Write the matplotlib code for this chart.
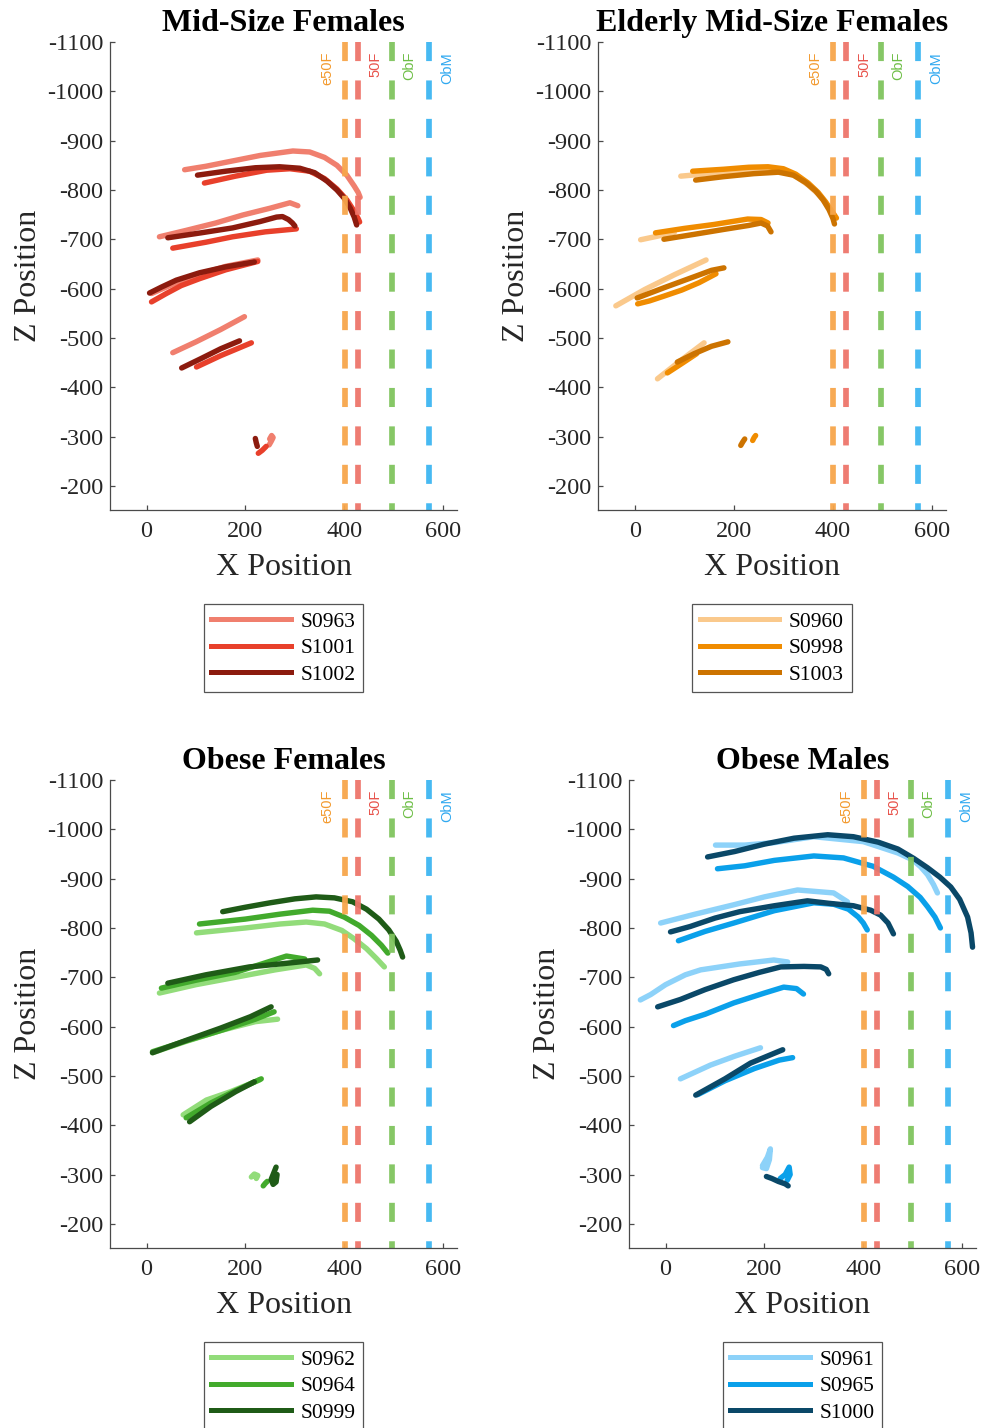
import matplotlib.pyplot as plt
from matplotlib.lines import Line2D

plt.rcParams['font.family'] = ['Liberation Serif', 'DejaVu Serif']
plt.rcParams['axes.unicode_minus'] = False

# reference positions (x) of the four occupant models
ref_names = ["e50F", "50F", "ObF", "ObM"]
ref_x = [401, 427, 496, 572]
ref_line_colors = ["#F7A64B", "#EE756A", "#80C45E", "#3DB6F2"]
ref_text_colors = ["#F39A2E", "#E8524A", "#6DBE45", "#2FA8F0"]

# ---- Mid-Size Females ----
S0963 = [
    ([77, 120, 170, 230, 296, 330, 360, 385, 405, 420, 428, 432],
     [-841, -848, -858, -870, -879, -877, -866, -850, -830, -808, -795, -785]),
    ([26, 80, 140, 194, 250, 290, 306], [-705, -718, -733, -749, -763, -774, -768]),
    ([10, 60, 110, 160, 225], [-590, -612, -630, -645, -658]),
    ([53, 100, 150, 198], [-470, -492, -517, -543]),
    ([248, 252, 256, 253, 249], [-283, -290, -298, -302, -295]),
]
S1001 = [
    ([117, 180, 243, 290, 330, 360, 385, 405, 418, 428, 431],
     [-814, -828, -840, -843, -838, -823, -802, -780, -760, -742, -735]),
    ([53, 120, 174, 240, 303], [-682, -694, -705, -715, -721]),
    ([10, 40, 70, 107, 160, 225], [-573, -590, -606, -620, -638, -655]),
    ([101, 150, 212], [-441, -464, -490]),
    ([226, 234, 242], [-266, -272, -280]),
]
S1002 = [
    ([103, 160, 220, 269, 310, 340, 365, 385, 400, 412, 420, 425],
     [-830, -838, -845, -847, -844, -835, -818, -800, -783, -763, -745, -729]),
    ([43, 110, 174, 230, 263, 275, 287, 295, 300], [-703, -713, -723, -736, -745, -746, -740, -733, -727]),
    ([6, 30, 60, 107, 160, 218], [-591, -603, -617, -632, -644, -654]),
    ([71, 110, 150, 188], [-439, -458, -478, -494]),
    ([220, 222, 224], [-296, -287, -280]),
]

# ---- Elderly Mid-Size Females ----
S0960 = [
    ([93, 150, 200, 269, 300, 325, 350, 370, 385, 397, 402],
     [-828, -833, -838, -842, -838, -828, -810, -792, -774, -756, -740]),
    ([12, 45, 80], [-699, -706, -714]),
    ([-38, 20, 80, 144], [-565, -598, -628, -658]),
    ([46, 90, 140], [-417, -452, -490]),
]
S0998 = [
    ([117, 180, 230, 269, 300, 325, 350, 370, 385, 397, 407],
     [-838, -842, -846, -847, -843, -832, -814, -795, -776, -758, -743]),
    ([42, 100, 160, 228, 255, 269], [-713, -722, -730, -741, -740, -733]),
    ([6, 30, 60, 95, 130, 164], [-569, -575, -585, -597, -612, -630]),
    ([66, 95, 125], [-429, -448, -468]),
    ([238, 241, 244], [-292, -298, -302]),
]
S1003 = [
    ([123, 180, 240, 290, 320, 345, 365, 380, 392, 400, 403],
     [-820, -827, -833, -836, -830, -815, -798, -780, -760, -742, -731]),
    ([59, 120, 180, 230, 255, 268, 275], [-700, -710, -720, -728, -733, -727, -715]),
    ([5, 60, 120, 155, 180], [-581, -602, -624, -637, -642]),
    ([86, 120, 155, 188], [-451, -468, -483, -492]),
    ([214, 218, 222], [-282, -289, -295]),
]

# ---- Obese Females ----
S0962 = [
    ([101, 200, 270, 323, 360, 395, 420, 445, 465, 481],
     [-790, -800, -808, -812, -808, -795, -778, -758, -738, -721]),
    ([26, 100, 180, 260, 323, 340, 350], [-668, -685, -700, -715, -725, -718, -707]),
    ([12, 80, 150, 220, 265], [-547, -570, -592, -610, -615]),
    ([74, 121, 170, 229], [-421, -451, -468, -492]),
    ([212, 218, 225, 222], [-295, -301, -298, -292]),
]
S0964 = [
    ([107, 200, 270, 336, 370, 400, 430, 455, 475, 488],
     [-808, -818, -828, -836, -834, -822, -805, -785, -765, -749]),
    ([30, 100, 180, 283, 320], [-678, -694, -710, -743, -737]),
    ([12, 80, 150, 220, 258], [-549, -571, -592, -615, -630]),
    ([80, 130, 180, 232], [-415, -445, -470, -494]),
    ([236, 240, 244], [-277, -282, -286]),
]
S0999 = [
    ([154, 200, 250, 300, 343, 380, 417, 445, 470, 490, 505, 513, 518],
     [-833, -842, -851, -859, -863, -861, -853, -838, -818, -796, -773, -755, -741]),
    ([43, 120, 208, 280, 346], [-688, -705, -721, -728, -735]),
    ([12, 80, 150, 210, 252], [-547, -572, -597, -620, -640]),
    ([87, 130, 180, 218], [-407, -438, -468, -488]),
    ([262, 258, 252, 256, 262, 264], [-315, -305, -290, -280, -285, -300]),
]

# ---- Obese Males ----
S0961 = [
    ([101, 160, 220, 300, 400, 470, 500, 516, 530, 542, 550],
     [-968, -968, -973, -985, -975, -952, -938, -924, -908, -888, -871]),
    ([-10, 60, 138, 200, 267, 340, 368], [-810, -828, -847, -863, -877, -871, -853]),
    ([-51, -30, 0, 40, 71, 150, 219, 247], [-654, -665, -685, -705, -715, -727, -735, -731]),
    ([30, 91, 140, 192], [-494, -522, -540, -557]),
    ([196, 206, 212, 210, 204, 196], [-318, -335, -352, -330, -312, -314]),
]
S0965 = [
    ([105, 160, 220, 300, 360, 420, 461, 490, 515, 530, 545, 556],
     [-920, -926, -937, -946, -942, -925, -903, -884, -862, -843, -822, -800]),
    ([26, 80, 138, 220, 300, 340, 370, 390, 400, 408],
     [-774, -793, -810, -835, -851, -848, -838, -822, -810, -796]),
    ([16, 40, 80, 138, 200, 239, 265, 279], [-602, -612, -625, -648, -668, -680, -677, -666]),
    ([65, 120, 180, 230, 257], [-462, -490, -515, -532, -537]),
    ([232, 242, 250, 252, 246], [-292, -300, -315, -300, -288]),
]
S1000 = [
    ([85, 140, 200, 260, 328, 380, 430, 470, 502, 530, 555, 577, 595, 611, 618, 621],
     [-944, -955, -970, -982, -989, -985, -974, -960, -941, -922, -903, -883, -858, -822, -790, -761]),
    ([10, 50, 100, 150, 220, 287, 330, 380, 415, 435, 450, 461],
     [-792, -803, -820, -833, -845, -855, -850, -845, -836, -826, -810, -788]),
    ([-16, 30, 80, 138, 190, 233, 280, 314, 325, 330],
     [-640, -655, -675, -695, -710, -721, -722, -721, -716, -707]),
    ([61, 120, 172, 237], [-461, -494, -526, -553]),
    ([204, 215, 228, 242, 248], [-296, -292, -286, -281, -277]),
]

panels = [
    ("Mid-Size Females", ["S0963", "S1001", "S1002"], [S0963, S1001, S1002],
     ["#F07F6E", "#E8402B", "#8C1B0E"]),
    ("Elderly Mid-Size Females", ["S0960", "S0998", "S1003"], [S0960, S0998, S1003],
     ["#FAC98C", "#F08C00", "#CC7300"]),
    ("Obese Females", ["S0962", "S0964", "S0999"], [S0962, S0964, S0999],
     ["#92DC7A", "#42AA2C", "#1F5B17"]),
    ("Obese Males", ["S0961", "S0965", "S1000"], [S0961, S0965, S1000],
     ["#8DD2F9", "#0AA0EA", "#0A4868"]),
]

W, H = 983, 1428
# axes boxes in pixels: left, top, right, bottom
boxes = [(110, 42, 457, 510), (598, 42, 946, 510),
         (110, 780, 457, 1248), (629, 780, 976, 1248)]
legend_tops = [604, 604, 1342, 1342]

fig = plt.figure(figsize=(W / 100, H / 100), dpi=100)

for (title, names, subjects, colors), box, ltop in zip(panels, boxes, legend_tops):
    l, t, r, b = box
    ax = fig.add_axes([l / W, 1 - b / H, (r - l) / W, (b - t) / H])

    handles = []
    for name, trajs, c in zip(names, subjects, colors):
        for xs, zs in trajs:
            ax.plot(xs, zs, color=c, lw=3.9, solid_capstyle='round',
                    solid_joinstyle='round')
        handles.append(Line2D([], [], color=c, lw=3.6))

    for rx, lc, tc, rn in zip(ref_x, ref_line_colors, ref_text_colors, ref_names):
        ax.plot([rx, rx], [-1100, -151], color=lc, lw=4.1, alpha=0.95,
                linestyle=(0, (3.35, 3.4)), solid_capstyle='butt')
        dx = -36 if rn == "e50F" else 36
        ax.text(rx + dx, -1080, rn, rotation=90, ha='center', va='top',
                color=tc, fontsize=10.5, family=['Liberation Sans', 'DejaVu Sans'])

    ax.set_xlim(-74, 628)
    ax.set_ylim(-151, -1100)
    ax.set_xticks([0, 200, 400, 600])
    ax.set_yticks(range(-1100, -199, 100))
    for s in ['top', 'right']:
        ax.spines[s].set_visible(False)
    for s in ['left', 'bottom']:
        ax.spines[s].set_color('#4a4a4a')
        ax.spines[s].set_linewidth(0.9)
    ax.tick_params(direction='in', length=3.5, width=0.9, color='#4a4a4a',
                   labelsize=17.5, labelcolor='#262626')
    ax.tick_params(axis='x', pad=8)
    ax.tick_params(axis='y', pad=5)
    ax.set_xlabel("X Position", fontsize=23, color='#262626', labelpad=8)
    ax.set_ylabel("Z Position", fontsize=23, color='#262626', labelpad=3)
    ax.set_title(title, fontsize=23, fontweight='bold', pad=8)

    cx = (l + r) / 2
    leg = fig.legend(handles, names, loc='upper center',
                     bbox_to_anchor=(cx / W, 1 - ltop / H),
                     bbox_transform=fig.transFigure, borderaxespad=0,
                     fancybox=False, edgecolor='#555555', framealpha=1,
                     fontsize=15.5, handlelength=3.7, handletextpad=0.45,
                     labelspacing=0.3, borderpad=0.35)
    leg.get_frame().set_linewidth(0.9)

fig.savefig("out.png", dpi=100)
